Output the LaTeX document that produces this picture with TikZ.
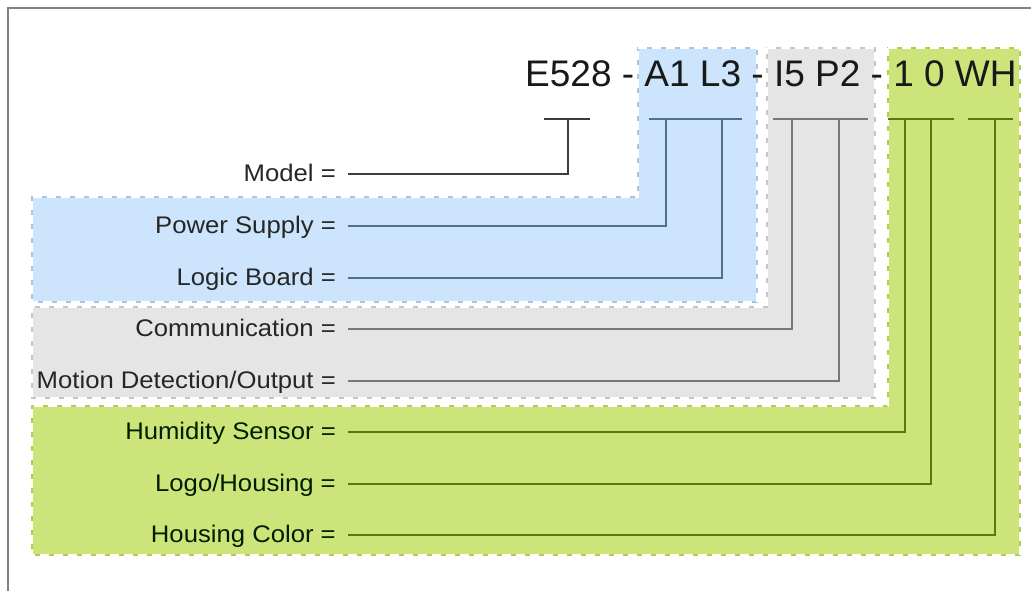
\documentclass[tikz,border=0pt]{standalone}
\usepackage{fontspec}
\setmainfont{Liberation Sans}
\newfontfamily\labfont[FakeStretch=1.07]{Liberation Sans}
\definecolor{bluefill}{RGB}{204,228,252}
\definecolor{grayfill}{RGB}{229,229,229}
\definecolor{greenfill}{RGB}{205,228,122}
\definecolor{blueedge}{RGB}{170,195,225}
\definecolor{grayedge}{RGB}{200,195,200}
\definecolor{greenedge}{RGB}{175,205,80}
\definecolor{blueline}{RGB}{85,110,140}
\definecolor{grayline}{RGB}{120,120,120}
\definecolor{greenline}{RGB}{88,120,22}
\definecolor{modelline}{RGB}{60,60,60}
\definecolor{framecol}{RGB}{128,128,128}
\begin{document}
\begin{tikzpicture}[x=1pt,y=-1pt,
  regfill/.style={fill=#1fill, draw=#1edge, line width=1.8pt},
  regdash/.style={draw=white, line width=1.8pt, dash pattern=on 9pt off 5pt},
  lab/.style={anchor=east, font=\labfont\fontsize{24}{27}\selectfont, text=black!85,
    inner sep=0pt, text height=20pt, text depth=5pt},
  conn/.style={line width=1.6pt, draw=#1},
]
\useasboundingbox (0,0) rectangle (1031,590);
\fill[white] (0,0) rectangle (1031,590);
% outer frame
\draw[framecol, line width=2.6pt] (8,592) -- (8,8) -- (1033,8);

% regions
\path[regfill=blue]  (638,48) -- (757,48) -- (757,302) -- (32,302) -- (32,197) -- (638,197) -- cycle;
\path[regdash]       (638,48) -- (757,48) -- (757,302) -- (32,302) -- (32,197) -- (638,197) -- cycle;
\path[regfill=gray]  (767,48) -- (875,48) -- (875,398) -- (32,398) -- (32,307) -- (767,307) -- cycle;
\path[regdash]       (767,48) -- (875,48) -- (875,398) -- (32,398) -- (32,307) -- (767,307) -- cycle;
\path[regfill=green] (888,48) -- (1020,48) -- (1020,555) -- (32,555) -- (32,406) -- (888,406) -- cycle;
\path[regdash]       (888,48) -- (1020,48) -- (1020,555) -- (32,555) -- (32,406) -- (888,406) -- cycle;

% heading
\node[anchor=base west, inner sep=0pt, font=\fontsize{37}{40}\selectfont, text=black!90] (code) at (525,86) {E528 - A1 L3 - I5 P2 - 1 0 WH};

% tick coordinates
\coordinate (mA) at (544,119); \coordinate (mB) at (590,119); \coordinate (mV) at (568,119);
\coordinate (bA) at (649,119); \coordinate (bB) at (742,119);
\coordinate (bV1) at (666,119); \coordinate (bV2) at (722,119);
\coordinate (gA) at (773,119); \coordinate (gB) at (868,119);
\coordinate (gV1) at (792,119); \coordinate (gV2) at (839,119);
\coordinate (nA) at (888,119); \coordinate (nB) at (954,119);
\coordinate (nV1) at (905,119); \coordinate (nV2) at (931,119);
\coordinate (wA) at (968,119); \coordinate (wB) at (1013,119);
\coordinate (wV) at (995,119);

% labels
\node[lab] (lModel) at (336,174) {Model =};
\node[lab] (lPower) at (336,226) {Power Supply =};
\node[lab] (lLogic) at (336,278) {Logic Board =};
\node[lab] (lComm)  at (336,329) {Communication =};
\node[lab] (lMotion) at (336,381) {Motion Detection/Output =};
\node[lab, text=black!88!green] (lHum)  at (336,432) {Humidity Sensor =};
\node[lab, text=black!88!green] (lLogo) at (336,484) {Logo/Housing =};
\node[lab, text=black!88!green] (lColor) at (336,535) {Housing Color =};

% ticks
\draw[conn=modelline] (mA) -- (mB);
\draw[conn=blueline] (bA) -- (bB);
\draw[conn=grayline] (gA) -- (gB);
\draw[conn=greenline] (nA) -- (nB);
\draw[conn=greenline] (wA) -- (wB);

% connectors
\draw[conn=modelline] ([xshift=12pt]lModel.east) -| (mV);
\draw[conn=blueline] ([xshift=12pt]lPower.east) -| (bV1);
\draw[conn=blueline] ([xshift=12pt]lLogic.east) -| (bV2);
\draw[conn=grayline] ([xshift=12pt]lComm.east) -| (gV1);
\draw[conn=grayline] ([xshift=12pt]lMotion.east) -| (gV2);
\draw[conn=greenline] ([xshift=12pt]lHum.east) -| (nV1);
\draw[conn=greenline] ([xshift=12pt]lLogo.east) -| (nV2);
\draw[conn=greenline] ([xshift=12pt]lColor.east) -| (wV);
\end{tikzpicture}
\end{document}
